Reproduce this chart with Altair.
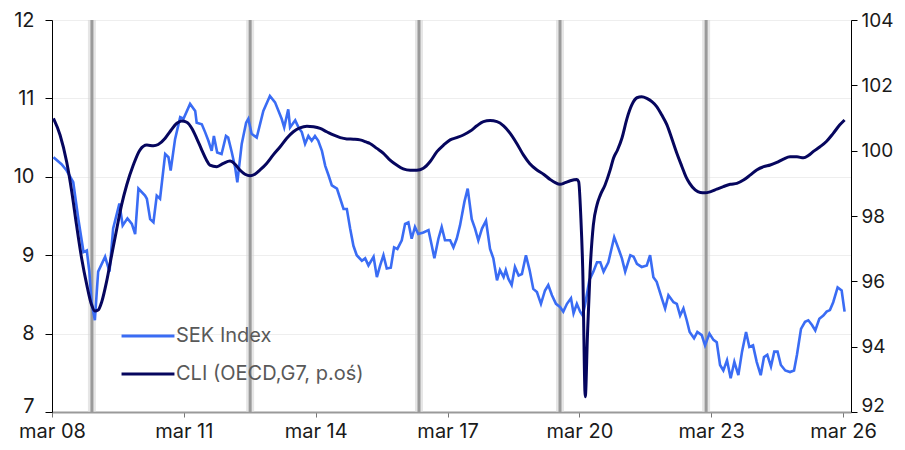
import altair as alt
import pandas as pd

START = pd.Timestamp("2008-03-01")
SEK_NAME = "SEK Index"
CLI_NAME = "CLI (OECD,G7, p.oś)"

# months since March 2008, SEK index values (left axis)
sek_months = [0.4, 2.6, 4.0, 5.8, 7.2, 8.6, 9.5, 10.2, 10.8, 11.7, 12.6, 14.5, 15.7, 16.7, 18.4, 19.3,
              20.6, 21.8, 22.7, 23.6, 25.4, 25.9, 26.8, 27.7, 28.6, 29.5, 30.9, 31.8, 32.4, 33.6, 35.0,
              35.9, 37.7, 39.1, 39.5, 40.9, 41.8, 42.7, 43.6, 44.2, 45.1, 46.3, 47.5, 48.1, 49.1, 50.0,
              50.6, 51.8, 53.0, 53.6, 54.5, 55.9, 57.7, 59.5, 60.9, 62.7, 63.4, 64.5, 65.0, 66.4, 67.3,
              68.2, 69.1, 70.0, 70.9, 71.8, 72.7, 73.7, 74.6, 75.5, 76.4, 77.8, 78.7, 79.6, 80.5, 81.4,
              82.3, 83.2, 84.6, 85.5, 86.4, 87.8, 88.7, 89.6, 90.5, 91.4, 92.5, 93.4, 94.3, 95.5, 96.4,
              97.3, 98.2, 99.1, 100.0, 101.4, 102.8, 103.7, 104.4, 105.5, 106.4, 107.3, 108.7, 109.6,
              110.5, 111.4, 112.6, 113.5, 114.6, 115.5, 116.4, 117.4, 118.5, 119.6, 120.5, 121.5, 122.3,
              123.3, 123.9, 124.6, 125.5, 126.4, 127.4, 128.3, 129.4, 130.4, 131.4, 132.4, 133.5, 134.6,
              135.5, 136.5, 137.6, 138.7, 139.6, 140.6, 141.7, 142.4, 143.3, 144.2, 144.9, 145.6, 146.7,
              147.8, 148.8, 149.7, 150.6, 151.9, 153.5, 154.7, 155.6, 156.5, 157.9, 158.8, 159.7, 161.0,
              162.4, 163.3, 164.2, 165.1, 166.5, 167.4, 168.3, 169.7, 170.6, 171.5, 172.4, 173.3, 174.1,
              175.3, 176.2, 177.4, 178.3, 179.5, 180.6, 181.5, 182.4, 183.3, 184.3, 185.3, 186.3, 187.4,
              188.4, 189.5, 190.4, 191.4, 192.4, 193.5, 194.4, 195.3, 196.3, 197.2, 198.1, 199.0, 200.2,
              201.5, 202.6, 203.4, 204.5, 205.6, 206.5, 207.5, 208.4, 209.5, 210.6, 211.5, 212.4, 213.3,
              214.5, 215.6, 216.4]
sek_values = [10.25, 10.16, 10.08, 9.93, 9.46, 9.04, 9.06, 8.79, 8.40, 8.17, 8.79, 8.98, 8.79, 9.34, 9.66, 9.38,
              9.47, 9.40, 9.27, 9.85, 9.76, 9.72, 9.46, 9.42, 9.76, 9.72, 10.29, 10.25, 10.08, 10.48, 10.76,
              10.74, 10.93, 10.84, 10.69, 10.67, 10.57, 10.46, 10.33, 10.52, 10.31, 10.29, 10.52, 10.50, 10.31, 10.12,
              9.93, 10.42, 10.69, 10.74, 10.55, 10.50, 10.84, 11.03, 10.95, 10.74, 10.63, 10.86, 10.63, 10.72, 10.63,
              10.57, 10.42, 10.52, 10.46, 10.52, 10.46, 10.33, 10.14, 10.02, 9.89, 9.85, 9.72, 9.59, 9.59, 9.34,
              9.12, 9.00, 8.93, 8.96, 8.87, 8.98, 8.72, 8.87, 9.00, 8.83, 8.84, 9.10, 9.08, 9.19, 9.40,
              9.42, 9.21, 9.36, 9.27, 9.29, 9.32, 9.12, 8.96, 9.21, 9.36, 9.19, 9.19, 9.10,
              9.21, 9.38, 9.68, 9.85, 9.46, 9.34, 9.19, 9.34, 9.44, 9.08, 8.96, 8.68, 8.81,
              8.72, 8.81, 8.70, 8.62, 8.85, 8.74, 8.76, 9.00, 8.81, 8.57, 8.53, 8.38, 8.55,
              8.62, 8.49, 8.38, 8.34, 8.28, 8.38, 8.45, 8.26, 8.38, 8.28, 8.23, 8.38, 8.68,
              8.79, 8.91, 8.91, 8.79, 8.91, 9.23, 9.08, 8.96, 8.79, 9.00, 8.98, 8.89, 8.85,
              8.87, 9.00, 8.72, 8.66, 8.45, 8.32, 8.49, 8.40, 8.38, 8.23, 8.32, 8.17, 8.02,
              7.94, 8.02, 7.98, 7.85, 8.00, 7.92, 7.89, 7.60, 7.53, 7.66, 7.43, 7.64, 7.47,
              7.77, 8.02, 7.83, 7.85, 7.64, 7.47, 7.70, 7.73, 7.58, 7.77, 7.77, 7.60, 7.53,
              7.51, 7.53, 7.73, 8.06, 8.15, 8.17, 8.11, 8.04, 8.19, 8.23, 8.28, 8.30, 8.40,
              8.59, 8.55, 8.28]

# months since March 2008, OECD CLI G7 (right axis)
cli_months = [0.4, 2.2, 4.0, 5.4, 6.7, 8.1, 9.5, 10.8, 11.7, 12.6, 13.6, 14.9, 16.3, 17.7, 19.0, 20.4, 22.2,
              24.0, 25.9, 27.7, 29.0, 30.9, 32.2, 34.1, 35.4, 36.8, 38.2, 39.5, 40.9, 42.2, 43.1, 45.0,
              46.8, 48.6, 50.0, 51.3, 52.7, 54.1, 55.4, 56.8, 58.6, 60.4, 62.3, 64.1, 65.9, 67.7, 69.6,
              71.4, 73.2, 75.0, 76.8, 78.7, 80.5, 82.3, 84.1, 85.9, 86.8, 88.7, 90.5, 92.3, 94.1, 95.9,
              97.8, 99.6, 101.4, 103.2, 105.1, 106.9, 108.7, 110.5, 112.3, 114.2, 116.0, 117.8, 119.6,
              121.5, 123.3, 125.1, 126.9, 128.7, 130.4, 132.4, 134.2, 136.0, 137.4, 138.7, 140.1, 141.5,
              143.3, 143.8, 144.4, 144.9, 145.6, 146.2, 146.9, 147.8, 148.8, 149.7, 151.0, 152.4, 153.3,
              154.4, 155.6, 157.0, 158.3, 159.7, 161.0, 162.4, 163.8, 165.1, 166.5, 167.9, 169.2, 170.6,
              172.0, 173.1, 174.1, 175.6, 177.0, 178.3, 179.7, 181.5, 183.3, 185.2, 187.0, 188.8, 190.6,
              192.4, 194.3, 196.1, 197.9, 199.7, 201.5, 203.4, 205.2, 206.5, 207.8, 209.7, 211.5, 213.3,
              215.1, 216.4]
cli_values = [100.99, 100.48, 99.66, 98.74, 97.72, 96.70, 95.89, 95.28, 95.09, 95.12, 95.38, 95.99, 96.81, 97.62,
              98.34, 98.95, 99.56, 100.02, 100.17, 100.15, 100.19, 100.38, 100.58, 100.84, 100.91, 100.87,
              100.68, 100.38, 100.02, 99.71, 99.56, 99.51, 99.61, 99.68, 99.58, 99.41, 99.28, 99.23, 99.28,
              99.41, 99.61, 99.87, 100.12, 100.38, 100.58, 100.70, 100.75, 100.73, 100.68, 100.58, 100.48,
              100.40, 100.36, 100.35, 100.33, 100.26, 100.22, 100.07, 99.92, 99.71, 99.56, 99.44, 99.40,
              99.40, 99.46, 99.66, 99.97, 100.17, 100.33, 100.40, 100.48, 100.60, 100.76, 100.89, 100.92,
              100.89, 100.76, 100.53, 100.22, 99.87, 99.61, 99.41, 99.28, 99.12, 99.02, 98.97, 99.02, 99.08,
              99.12, 99.05, 97.93, 96.40, 92.47, 94.36, 96.29, 97.72, 98.34, 98.64, 98.95, 99.41, 99.77,
              100.02, 100.38, 100.99, 101.40, 101.62, 101.65, 101.60, 101.50, 101.35, 101.09, 100.79, 100.38,
              99.92, 99.51, 99.20, 99.00, 98.80, 98.72, 98.71, 98.74, 98.82, 98.90, 98.97, 99.00, 99.10,
              99.25, 99.41, 99.51, 99.56, 99.64, 99.74, 99.81, 99.81, 99.78, 99.85, 99.97, 100.12, 100.29,
              100.53, 100.79, 100.94]

# grey vertical markers (months since March 2008)
marker_months = [10.9, 54.1, 100.2, 138.7, 178.6]

tick_years = [2008, 2011, 2014, 2017, 2020, 2023, 2026]
sek_ticks = [7, 8, 9, 10, 11, 12]
cli_ticks = [92, 94, 96, 98, 100, 102, 104]


def to_date(m):
    return START + pd.Timedelta(days=m * 30.4375)


sek_df = pd.DataFrame({"date": [to_date(m) for m in sek_months], "value": sek_values, "series": SEK_NAME})
cli_df = pd.DataFrame({"date": [to_date(m) for m in cli_months], "value": cli_values, "series": CLI_NAME})
mark_df = pd.DataFrame({"date": [to_date(m) for m in marker_months]})

FONT = "Inter"

x_enc = alt.X(
    "date:T",
    scale=alt.Scale(domain=[alt.DateTime(year=2008, month=3, date=1),
                            alt.DateTime(year=2026, month=5, date=6)]),
    axis=alt.Axis(
        values=[alt.DateTime(year=y, month=3, date=1) for y in tick_years],
        labelExpr="'mar ' + timeFormat(datum.value, '%y')",
        grid=False, title=None, domainColor="#9a9a9a", domainWidth=2,
        tickColor="#777777", tickSize=5, labelPadding=4, labelFontSize=20,
        labelColor="#1a1a1a", labelFont=FONT, labelOverlap=False, labelFlush=False,
    ),
)

color_enc = alt.Color(
    "series:N",
    scale=alt.Scale(domain=[SEK_NAME, CLI_NAME], range=["#3a6cf4", "#06065e"]),
    legend=alt.Legend(
        title=None, orient="none", legendX=68, legendY=288, direction="vertical",
        symbolType="stroke", symbolSize=2800, symbolStrokeWidth=3,
        labelFontSize=20, labelColor="#595959", labelFont=FONT, labelLimit=500,
        labelOffset=0, rowPadding=0,
    ),
)

shadow = alt.Chart(mark_df).mark_rule(color="#d6d6d6", strokeWidth=8, opacity=0.6).encode(x=x_enc)
bars = alt.Chart(mark_df).mark_rule(color="#9a9a9a", strokeWidth=3).encode(x=x_enc)

sek_line = alt.Chart(sek_df).mark_line(strokeWidth=2.6).encode(
    x=x_enc,
    y=alt.Y("value:Q",
            scale=alt.Scale(domain=[7, 12], nice=False, zero=False),
            axis=alt.Axis(values=sek_ticks, orient="left", grid=True, gridColor="#eeeeee",
                          domainColor="black", tickColor="black", tickSize=7, labelPadding=11,
                          labelOffset={"condition": {"test": "datum.value === 7", "value": -6}, "value": 0},
                          labelFontSize=20, labelColor="#1a1a1a", labelFont=FONT, title=None)),
    color=color_enc,
)

cli_line = alt.Chart(cli_df).mark_line(strokeWidth=3, interpolate="monotone").encode(
    x=x_enc,
    y=alt.Y("value:Q",
            scale=alt.Scale(domain=[92, 104], nice=False, zero=False),
            axis=alt.Axis(values=cli_ticks, orient="right", grid=False,
                          domainColor="black", tickColor="black", tickSize=6, labelPadding=4,
                          labelOffset={"condition": {"test": "datum.value === 92", "value": -7}, "value": 0},
                          labelFontSize=19, labelColor="#1a1a1a", labelFont=FONT, title=None)),
    color=color_enc,
)

chart = (
    alt.layer(shadow, bars, sek_line, cli_line)
    .resolve_scale(y="independent", color="shared")
    .properties(
        width=799, height=392,
        autosize=alt.AutoSizeParams(type="none"),
        padding={"left": 44, "top": 12, "right": 46, "bottom": 30},
    )
    .configure_view(stroke=None)
    .configure(font=FONT)
)

chart.save("out.html", embed_options={"renderer": "svg", "actions": False})
